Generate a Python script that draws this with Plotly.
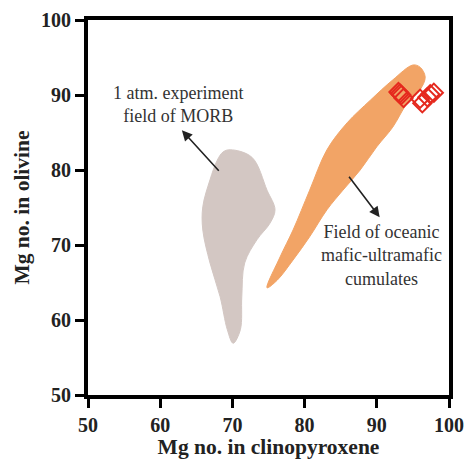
import plotly.graph_objects as go

# MORB 1 atm experiment field (gray)
morb_x = [69.7, 72.7, 74.8, 75.9, 75.2, 73.4, 71.7, 71.3, 71.1, 70.1, 69.3, 68.3, 66.9, 65.9, 65.9, 66.9, 67.9, 68.7, 69.7]
morb_y = [82.7, 81.7, 77.3, 74.7, 72.9, 70.7, 67.6, 63.1, 58.7, 56.9, 58.7, 63.1, 67.6, 72.0, 75.1, 78.7, 81.3, 82.4, 82.7]

# oceanic mafic-ultramafic cumulates field (orange)
cum_x = [74.8, 76.6, 78.4, 80.7, 83.1, 85.9, 89.1, 92.2, 95.0, 96.0, 96.7, 96.0, 94.2, 92.2, 90.0, 87.7, 85.3, 83.1, 80.7, 78.4, 76.2, 74.8]
cum_y = [64.3, 68.4, 72.0, 77.3, 82.7, 86.3, 89.3, 92.0, 94.0, 93.7, 92.4, 90.7, 88.9, 85.7, 83.1, 80.0, 77.3, 74.7, 71.1, 68.0, 65.3, 64.3]

# samples (red open diamonds)
samp_x = [93.0, 93.4, 93.7, 93.2, 96.0, 96.3, 97.0, 97.4, 97.9]
samp_y = [90.4, 90.0, 89.6, 90.2, 89.5, 88.9, 89.7, 90.1, 90.3]

ticks = [50, 60, 70, 80, 90, 100]

fig = go.Figure()
fig.add_trace(go.Scatter(x=morb_x, y=morb_y, mode="lines", fill="toself",
                         line=dict(color="#d3c7c3", width=1, shape="spline", smoothing=1.0),
                         fillcolor="#d3c7c3", hoverinfo="skip", showlegend=False))
fig.add_trace(go.Scatter(x=cum_x, y=cum_y, mode="lines", fill="toself",
                         line=dict(color="#f2a466", width=1, shape="spline", smoothing=1.0),
                         fillcolor="#f2a466", hoverinfo="skip", showlegend=False))
fig.add_trace(go.Scatter(x=samp_x, y=samp_y, mode="markers",
                         marker=dict(symbol="diamond-open", size=14, color="#e5291e", line=dict(width=2)),
                         showlegend=False))

serif = "Liberation Serif, Times New Roman, serif"
fig.add_annotation(x=63.0, y=85.3, ax=68.3, ay=79.7, xref="x", yref="y", axref="x", ayref="y",
                   text="", showarrow=True, arrowhead=2, arrowsize=1.3, arrowwidth=1.6, arrowcolor="#222")
fig.add_annotation(x=90.4, y=73.7, ax=86.0, ay=79.3, xref="x", yref="y", axref="x", ayref="y",
                   text="", showarrow=True, arrowhead=2, arrowsize=1.3, arrowwidth=1.6, arrowcolor="#222")
fig.add_annotation(x=62.5, y=88.7, xref="x", yref="y", showarrow=False,
                   text="1 atm. experiment<br>field of MORB",
                   font=dict(family=serif, size=18, color="#333"))
fig.add_annotation(x=90.6, y=68.6, xref="x", yref="y", showarrow=False,
                   text="Field of oceanic<br>mafic-ultramafic<br>cumulates",
                   font=dict(family=serif, size=18, color="#333"))

axis_common = dict(showline=True, linecolor="black", linewidth=4, mirror=True,
                   ticks="outside", ticklen=9, tickwidth=3, tickcolor="black",
                   showgrid=False, zeroline=False, automargin=False,
                   tickfont=dict(family=serif, size=20, color="#222", weight="bold"),
                   tickvals=ticks, range=[50, 100])
fig.update_xaxes(**axis_common,
                 title=dict(text="Mg no. in clinopyroxene", standoff=6,
                            font=dict(family=serif, size=21.5, color="#222", weight="bold")))
fig.update_yaxes(**axis_common,
                 title=dict(text="Mg no. in olivine", standoff=6,
                            font=dict(family=serif, size=21.5, color="#222", weight="bold")))
fig.update_layout(width=471, height=459, margin=dict(l=88, r=22, t=20, b=64),
                  plot_bgcolor="white", paper_bgcolor="white")
fig.write_html("out.html", config={"displayModeBar": False},
               post_script="document.body.style.margin='0';document.body.style.overflow='hidden';")
